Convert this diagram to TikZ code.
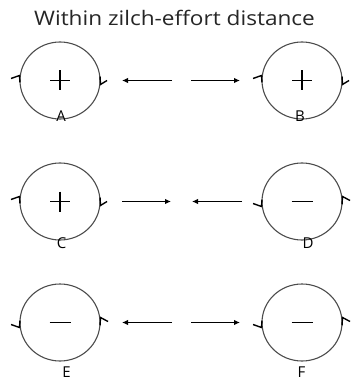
\documentclass[tikz,border=0pt]{standalone}
\usepackage{fontspec}
\setmainfont{Open Sans}
\usetikzlibrary{shapes.geometric,arrows.meta}
\newcommand{\spinp}[1]{%
  \draw[spin] (#1.center) ++(-49,-2) -- ++(8.5,-3) -- ++(0.5,7);
  \draw[spin] (#1.center) ++(47,0) -- ++(-6.5,4) -- ++(-0.5,-8);}
\newcommand{\spinm}[1]{%
  \draw[spin] (#1.center) ++(-49,2) -- ++(8.5,3) -- ++(0.5,-7);
  \draw[spin] (#1.center) ++(48,-1) -- ++(-7.5,-4) -- ++(-0.5,8);}
\newcommand{\plussign}[1]{%
  \draw[sign] (#1.center) ++(-10,0) -- ++(20,0);
  \draw[sign] (#1.center) ++(0,-10) -- ++(0,20);}
\newcommand{\minussign}[1]{%
  \draw[sign] (#1.center) ++(-10.5,0) -- ++(21,0);}
\begin{document}
\begin{tikzpicture}[x=1pt,y=-1pt,
  ball/.style={draw=black!70, line width=1.1pt, ellipse, minimum width=80pt, minimum height=77pt, inner sep=0pt},
  arr/.style={-{Latex[length=6pt,width=5.5pt]}, line width=1.5pt},
  lbl/.style={font=\fontsize{15}{15}\selectfont, inner sep=0pt},
  sign/.style={line width=1.2pt},
  spin/.style={line width=1.4pt, line join=miter}]
\useasboundingbox (0,0) rectangle (352,382);
\node[font=\fontsize{20}{20}\selectfont, inner sep=0pt, xscale=1.13, text=black!85] (title) at (174.5,18) {Within zilch-effort distance};
% circles
\node[ball] (A) at (60,80.5) {};
\node[ball] (B) at (302,80.5) {};
\node[ball] (C) at (60,201.5) {};
\node[ball] (D) at (302,201.5) {};
\node[ball] (E) at (60,322.5) {};
\node[ball] (F) at (302,322.5) {};
% signs
\plussign{A} \plussign{B} \plussign{C}
\minussign{D} \minussign{E} \minussign{F}
% spin markers
\spinp{A} \spinp{B} \spinp{C}
\spinm{D} \spinm{E} \spinm{F}
% labels
\node[lbl] (la) at (61,116.5) {A};
\node[lbl] (lb) at (300,116.5) {B};
\node[lbl] (lc) at (61.5,243) {C};
\node[lbl] (ld) at (308,243) {D};
\node[lbl] (le) at (66.5,372) {E};
\node[lbl] (lf) at (301.5,372) {F};
% arrow end points
\coordinate (r1a) at (172,80.5);  \coordinate (r1b) at (122,80.5);
\coordinate (r1c) at (191,80.5);  \coordinate (r1d) at (240,80.5);
\coordinate (r2a) at (122,201.5); \coordinate (r2b) at (171,201.5);
\coordinate (r2c) at (242,201.5); \coordinate (r2d) at (192,201.5);
\coordinate (r3a) at (172,322.5); \coordinate (r3b) at (122,322.5);
\coordinate (r3c) at (191,322.5); \coordinate (r3d) at (240,322.5);
\draw[arr] (r1a) -- (r1b);
\draw[arr] (r1c) -- (r1d);
\draw[arr] (r2a) -- (r2b);
\draw[arr] (r2c) -- (r2d);
\draw[arr] (r3a) -- (r3b);
\draw[arr] (r3c) -- (r3d);
\end{tikzpicture}
\end{document}
